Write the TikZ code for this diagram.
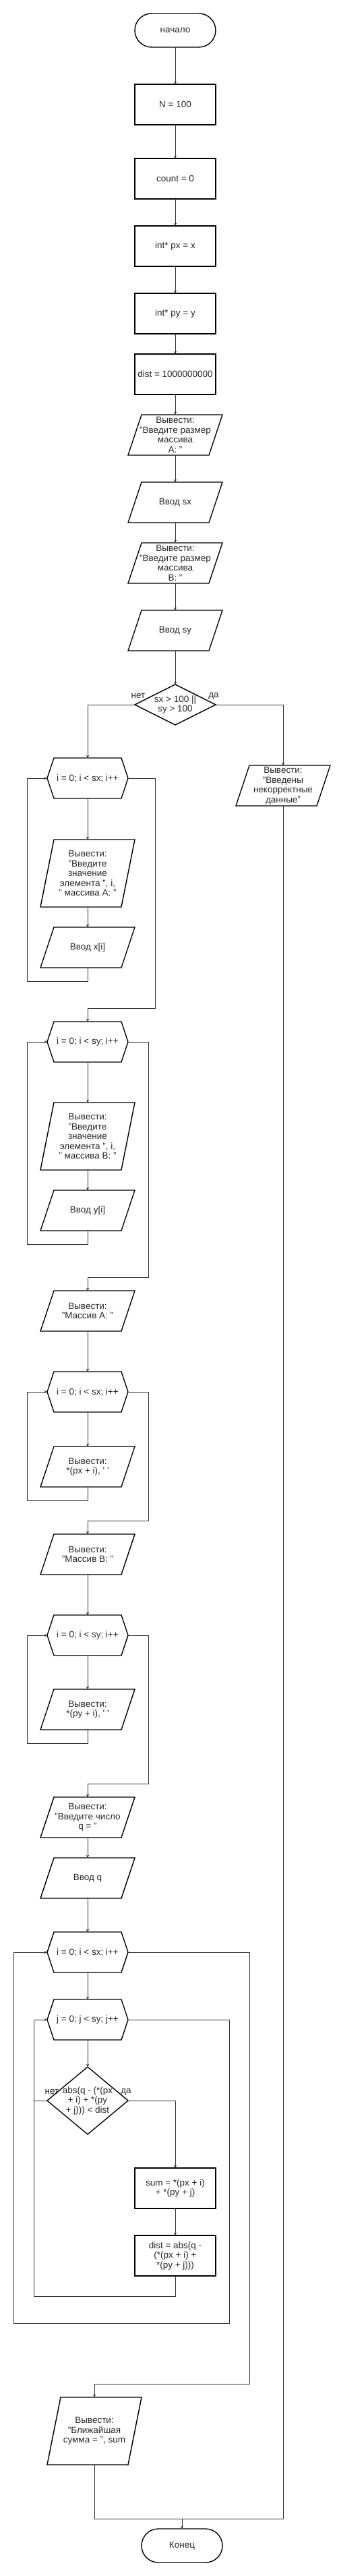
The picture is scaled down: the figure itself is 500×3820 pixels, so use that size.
\documentclass[tikz,border=0pt]{standalone}
\usepackage{fontspec}
\setmainfont{Liberation Sans}
\usetikzlibrary{arrows}

\begin{document}
\begin{tikzpicture}[
                > = stealth, % arrow head style
                x = 1pt, y = -1pt, % pixel grid, y grows downwards
                semithick % line style
            ]

            \tikzstyle{every node}=[font=\fontsize{13.5}{14.5}\selectfont,
            align=center, inner sep = 1pt, outer sep = 0pt, text=black!85]
            \tikzstyle{term}=[draw, line width=1.4pt, rounded corners=25pt,
            minimum width=120pt, minimum height=50pt]
            \tikzstyle{proc}=[draw, line width=1.4pt, minimum width=120pt,
            minimum height=60pt]
            \tikzstyle{io}=[minimum width=140pt, minimum height=60pt]
            \tikzstyle{iotall}=[minimum width=140pt, minimum height=100pt]
            \tikzstyle{forbox}=[minimum width=120pt, minimum height=60pt]
            \tikzstyle{cond}=[minimum width=120pt, minimum height=60pt]
            \tikzstyle{condtall}=[minimum width=120pt, minimum height=100pt]
            \tikzstyle{outline}=[line width=1.4pt, line join=miter]
            \tikzstyle{flow}=[draw=black!80, line width=0.9pt]
            \tikzstyle{lbl}=[inner sep=0pt]

            \useasboundingbox (0,0) rectangle (500,3820);

            % main column
            \node[term] (start) at (260,45) {начало};
            \node[proc] (nn) at (260,155) {N = 100};
            \node[proc] (cnt) at (260,265) {count = 0};
            \node[proc] (px) at (260,365) {int* px = x};
            \node[proc] (py) at (260,465) {int* py = y};
            \node[proc] (dst) at (260,555) {dist = 1000000000};
            \node[io] (askA) at (260,645) {Вывести:\\"Введите размер\\массива\\A: "};
            \node[io] (inSX) at (260,745) {Ввод sx};
            \node[io] (askB) at (260,835) {Вывести:\\"Введите размер\\массива\\B: "};
            \node[io] (inSY) at (260,935) {Ввод sy};
            \node[cond] (chk) at (260,1045) {sx > 100 ||\\sy > 100};
            \node[io] (err) at (420,1165) {Вывести:\\"Введены\\некорректные\\данные"};

            % input loops
            \node[forbox] (loopA) at (130,1154) {i = 0; i < sx; i++};
            \node[iotall] (askX) at (130,1295) {Вывести:\\"Введите\\значение\\элемента ", i,\\" массива A: "};
            \node[io] (inX) at (130,1405) {Ввод x[i]};
            \node[forbox] (loopB) at (130,1545) {i = 0; i < sy; i++};
            \node[iotall] (askY) at (130,1685) {Вывести:\\"Введите\\значение\\элемента ", i,\\" массива B: "};
            \node[io] (inY) at (130,1795) {Ввод y[i]};

            % output loops
            \node[io] (showA) at (130,1944) {Вывести:\\"Массив A: "};
            \node[forbox] (loopC) at (130,2064) {i = 0; i < sx; i++};
            \node[io] (prX) at (130,2175) {Вывести:\\*(px + i), \textquotesingle\ \textquotesingle};
            \node[io] (showB) at (130,2305) {Вывести:\\"Массив B: "};
            \node[forbox] (loopD) at (130,2425) {i = 0; i < sy; i++};
            \node[io] (prY) at (130,2535) {Вывести:\\*(py + i), \textquotesingle\ \textquotesingle};

            % search
            \node[io] (askQ) at (130,2695) {Вывести:\\"Введите число\\q = "};
            \node[io] (inQ) at (130,2785) {Ввод q};
            \node[forbox] (loopI) at (130,2895) {i = 0; i < sx; i++};
            \node[forbox] (loopJ) at (130,2995) {j = 0; j < sy; j++};
            \node[condtall] (near) at (130,3115) {abs(q - (*(px\\+ i) + *(py\\+ j))) < dist};
            \node[proc] (sum) at (260,3245) {sum = *(px + i)\\+ *(py + j)};
            \node[proc] (upd) at (260,3345) {dist = abs(q -\\(*(px + i) +\\*(py + j)))};
            \node[iotall] (res) at (140,3605) {Вывести:\\"Ближайшая\\сумма = ", sum};
            \node[term] (fin) at (270,3775) {Конец};
            \coordinate (join) at (270,3735);

            \node[lbl] (chkNo) at ([xshift=5pt, yshift=13pt]chk.west) {нет};
            \node[lbl] (chkYes) at ([xshift=-3pt, yshift=13pt]chk.east) {да};
            \node[lbl] (nearNo) at ([xshift=7pt, yshift=13pt]near.west) {нет};
            \node[lbl] (nearYes) at ([xshift=-3pt, yshift=13pt]near.east) {да};

            % shapes
            \foreach \n in {askA, inSX, askB, inSY, err, askX, inX, askY, inY,
                showA, prX, showB, prY, askQ, inQ, res}
            \draw[outline] (\n.south west) -- ([xshift=20pt]\n.north west) --
            (\n.north east) -- ([xshift=-20pt]\n.south east) -- cycle;
            \foreach \n in {loopA, loopB, loopC, loopD, loopI, loopJ}
            \draw[outline] (\n.west) -- ([xshift=10pt]\n.north west) --
            ([xshift=-10pt]\n.north east) -- (\n.east) --
            ([xshift=-10pt]\n.south east) -- ([xshift=10pt]\n.south west) -- cycle;
            \foreach \n in {chk, near}
            \draw[outline] (\n.north) -- (\n.east) -- (\n.south) -- (\n.west) -- cycle;

            % straight arrows
            \foreach \a/\b in {start/nn, nn/cnt, cnt/px, px/py, py/dst, dst/askA,
                askA/inSX, inSX/askB, askB/inSY, inSY/chk, loopA/askX, askX/inX,
                loopB/askY, askY/inY, showA/loopC, loopC/prX, showB/loopD,
                loopD/prY, askQ/inQ, inQ/loopI, loopI/loopJ, loopJ/near, sum/upd}
            \path[flow, ->] (\a.south) -- (\b.north);

            % branches
            \path[flow, ->] (chk.west) -| (loopA.north);
            \path[flow, ->] (chk.east) -| (err.north);
            \path[flow, ->] (near.east) -| (sum.north);
            \path[flow] (near.west) -- ++(-20,0);

            % loops back and exits
            \path[flow, ->] (inX.south) -- ++(0,20) -| ([xshift=-30pt]loopA.west) -- (loopA.west);
            \path[flow, ->] (loopA.east) -- ++(40,0) |- ([yshift=20pt]loopB.north) -- (loopB.north);
            \path[flow, ->] (inY.south) -- ++(0,20) -| ([xshift=-30pt]loopB.west) -- (loopB.west);
            \path[flow, ->] (loopB.east) -- ++(30,0) |- ([yshift=20pt]showA.north) -- (showA.north);
            \path[flow, ->] (prX.south) -- ++(0,20) -| ([xshift=-30pt]loopC.west) -- (loopC.west);
            \path[flow, ->] (loopC.east) -- ++(30,0) |- ([yshift=20pt]showB.north) -- (showB.north);
            \path[flow, ->] (prY.south) -- ++(0,20) -| ([xshift=-30pt]loopD.west) -- (loopD.west);
            \path[flow, ->] (loopD.east) -- ++(30,0) |- ([yshift=20pt]askQ.north) -- (askQ.north);
            \path[flow, ->] (upd.south) -- ++(0,30) -| ([xshift=-20pt]loopJ.west) -- (loopJ.west);
            \path[flow, ->] (loopJ.east) -- ++(150,0) -- ++(0,450) -| ([xshift=-50pt]loopI.west) -- (loopI.west);
            \path[flow, ->] (loopI.east) -- ++(180,0) |- ([yshift=20pt]res.north) -- (res.north);

            % end
            \path[flow] (res.south) |- (join);
            \path[flow] (err.south) |- (join);
            \path[flow, ->] (join) -- (fin.north);

        \end{tikzpicture}
\end{document}
